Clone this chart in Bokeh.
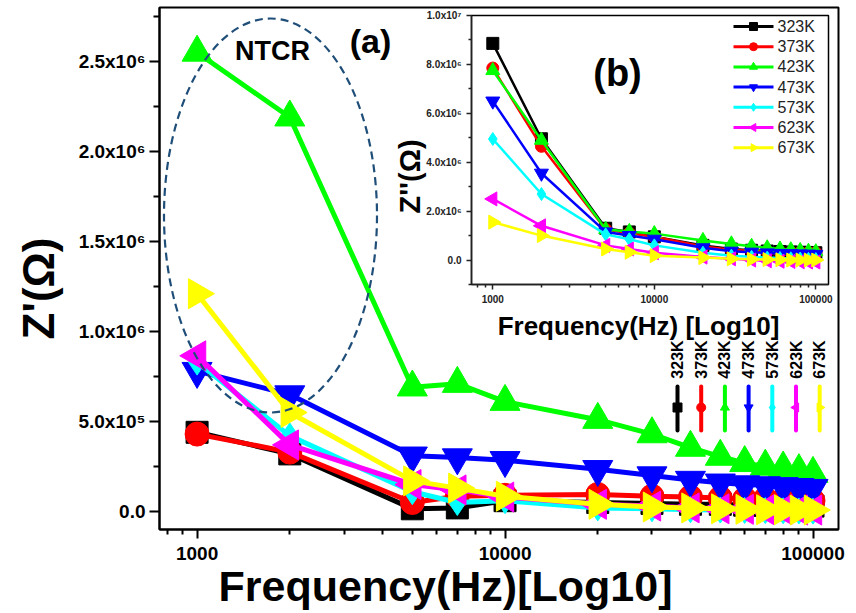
import math
from bokeh.plotting import figure
from bokeh.models import FixedTicker, Range1d, Label, CustomJSTickFormatter
from bokeh.core.properties import value
from bokeh.embed import file_html
from bokeh.resources import INLINE

FONT = "Liberation Sans"

# ---------------- data ----------------
freq = [1000, 2000, 5000, 7000, 10000, 20000, 30000, 40000, 50000,
        60000, 70000, 80000, 90000, 100000]
temps = ["323K", "373K", "423K", "473K", "573K", "623K", "673K"]

# Z' (main panel a)
zr_323 = [4.4e5, 3.2e5, 1.5e4, 2.0e4, 6.0e4, 5.0e4, 4.5e4, 4.0e4, 4.0e4, 3.5e4, 3.5e4, 3.0e4, 3.0e4, 3.0e4]
zr_373 = [4.3e5, 3.3e5, 5.0e4, 8.5e4, 9.0e4, 9.5e4, 8.5e4, 8.0e4, 7.5e4, 7.0e4, 7.0e4, 6.5e4, 6.5e4, 6.0e4]
zr_423 = [2.55e6, 2.19e6, 6.9e5, 7.1e5, 6.1e5, 5.1e5, 4.3e5, 3.55e5, 3.05e5, 2.7e5, 2.5e5, 2.4e5, 2.25e5, 2.1e5]
zr_473 = [7.8e5, 6.5e5, 3.1e5, 3.0e5, 2.85e5, 2.35e5, 2.0e5, 1.75e5, 1.6e5, 1.5e5, 1.45e5, 1.4e5, 1.35e5, 1.3e5]
zr_573 = [8.3e5, 4.2e5, 1.1e5, 5.0e4, 6.0e4, 2.0e4, 1.5e4, 1.0e4, 8.0e3, 6.0e3, 5.0e3, 4.0e3, 3.0e3, 2.0e3]
zr_623 = [8.65e5, 3.7e5, 1.5e5, 1.2e5, 8.0e4, 4.0e4, 3.0e4, 2.0e4, 1.5e4, 1.2e4, 1.0e4, 1.0e4, 8.0e3, 8.0e3]
zr_673 = [1.21e6, 5.5e5, 1.7e5, 1.3e5, 8.5e4, 4.0e4, 2.5e4, 2.0e4, 1.5e4, 1.2e4, 1.0e4, 1.0e4, 8.0e3, 8.0e3]

# Z'' (inset panel b)
zi_323 = [8.86e6, 4.96e6, 1.3e6, 1.15e6, 9.5e5, 6.0e5, 4.5e5, 4.0e5, 3.7e5, 3.5e5, 3.3e5, 3.2e5, 3.1e5, 3.0e5]
zi_373 = [7.85e6, 4.65e6, 1.25e6, 1.1e6, 9.5e5, 5.5e5, 4.2e5, 3.8e5, 3.5e5, 3.3e5, 3.2e5, 3.1e5, 3.0e5, 3.0e5]
zi_423 = [7.75e6, 4.9e6, 1.25e6, 1.17e6, 1.08e6, 8.0e5, 6.6e5, 5.6e5, 5.0e5, 4.5e5, 4.2e5, 3.9e5, 3.6e5, 3.4e5]
zi_473 = [6.5e6, 3.55e6, 1.15e6, 1.0e6, 8.5e5, 5.0e5, 3.6e5, 3.2e5, 2.9e5, 2.7e5, 2.6e5, 2.5e5, 2.4e5, 2.3e5]
zi_573 = [4.95e6, 2.7e6, 1.05e6, 8.5e5, 6.0e5, 3.0e5, 1.8e5, 1.3e5, 1.0e5, 8.0e4, 7.0e4, 6.0e4, 5.0e4, 4.0e4]
zi_623 = [2.5e6, 1.4e6, 6.0e5, 4.5e5, 3.0e5, 1.2e5, 5.0e4, 0.0, -3.0e4, -5.0e4, -6.0e4, -7.0e4, -8.0e4, -8.0e4]
zi_673 = [1.55e6, 1.0e6, 4.5e5, 3.2e5, 1.8e5, 1.0e5, 5.0e4, 3.0e4, 2.0e4, 1.0e4, 0.0, 0.0, 0.0, 0.0]

main_series = [zr_323, zr_373, zr_423, zr_473, zr_573, zr_623, zr_673]
inset_series = [zi_323, zi_373, zi_423, zi_473, zi_573, zi_623, zi_673]

x_ticks = [1000, 10000, 100000]
x_tick_labels = ["1000", "10000", "100000"]
x_minor = [800, 900, 2000, 3000, 4000, 5000, 6000, 7000, 8000, 9000,
           20000, 30000, 40000, 50000, 60000, 70000, 80000, 90000]
main_y_ticks = [0, 5e5, 1e6, 1.5e6, 2e6, 2.5e6]
main_y_tick_labels = ["0.0", "5.0x10\u2075", "1.0x10\u2076", "1.5x10\u2076", "2.0x10\u2076", "2.5x10\u2076"]
main_y_minor = [2.5e5, 7.5e5, 1.25e6, 1.75e6, 2.25e6, 2.75e6]
inset_y_ticks = [0, 2e6, 4e6, 6e6, 8e6, 1e7]
inset_y_tick_labels = ["0.0", "2.0x10\u2076", "4.0x10\u2076", "6.0x10\u2076", "8.0x10\u2076", "1.0x10\u2077"]
inset_y_minor = [-1e6, 1e6, 3e6, 5e6, 7e6, 9e6]

# ---------------- styles ----------------
colors = ["#000000", "#ff0000", "#00ff00", "#0000ff", "#00ffff", "#ff00ff", "#ffff00"]
markers = ["square", "circle", "triangle", "inverted_triangle", "diamond", "triangle", "triangle"]
angles = [0, 0, 0, 0, 0, math.pi / 2, -math.pi / 2]
main_sizes = [22, 24, 30, 30, 26, 30, 30]
inset_sizes = [12, 12, 14, 14, 13, 14, 14]


def tick_fmt(vals, labs):
    return CustomJSTickFormatter(args=dict(tvals=vals, tlabs=labs), code="""
        for (let i = 0; i < tvals.length; i++) {
            if (Math.abs(tick - tvals[i]) <= 1e-6 * Math.max(1, Math.abs(tvals[i]))) return tlabs[i];
        }
        return "";
    """)


def bare(fig):
    fig.xgrid.visible = False
    fig.ygrid.visible = False


# ---------------- main figure ----------------
MX0, MX1, MY0, MY1 = 755, 121000, -1e5, 2.8e6
FL, FR, FT, FB = 159, 838, 7, 529        # frame in page pixels
W, H = 848, 610


def mx(px):
    a, b = math.log10(MX0), math.log10(MX1)
    return 10 ** (a + (px - FL) / (FR - FL) * (b - a))


def my(py):
    return MY0 + (FB - py) / (FB - FT) * (MY1 - MY0)


p = figure(width=W, height=H, x_axis_type="log",
           x_range=Range1d(MX0, MX1), y_range=Range1d(MY0, MY1),
           output_backend="svg", toolbar_location=None,
           min_border_left=FL, min_border_right=W - FR,
           min_border_top=FT, min_border_bottom=H - FB)
bare(p)
p.outline_line_color = "black"
p.outline_line_width = 2
p.background_fill_color = "white"
p.border_fill_color = "white"

for ax in (p.xaxis[0], p.yaxis[0]):
    ax.axis_line_width = 2
    ax.axis_line_color = "black"
    ax.major_tick_in = 0
    ax.minor_tick_in = 0
    ax.major_tick_line_width = 2
    ax.minor_tick_line_width = 2
    ax.major_label_text_font = FONT
    ax.major_label_text_font_style = "bold"
    ax.major_label_text_font_size = "19px"
    ax.major_label_text_color = "black"

p.xaxis.ticker = FixedTicker(ticks=x_ticks, minor_ticks=x_minor)
p.xaxis.formatter = tick_fmt(x_ticks, x_tick_labels)
p.xaxis.major_tick_out = 9
p.xaxis.minor_tick_out = 5
p.xaxis.major_label_standoff = 8

p.yaxis.ticker = FixedTicker(ticks=main_y_ticks, minor_ticks=main_y_minor)
p.yaxis.formatter = tick_fmt(main_y_ticks, main_y_tick_labels)
p.yaxis.major_tick_out = 10
p.yaxis.minor_tick_out = 6
p.yaxis.major_label_standoff = 4

for ys, c, m, a, s in zip(main_series, colors, markers, angles, main_sizes):
    p.line(freq, ys, line_color=c, line_width=5, line_join="round")
    p.scatter(freq, ys, marker=m, angle=a, size=s, fill_color=c, line_color=c)

# NTCR dashed ellipse
p.ellipse(x=[mx(270)], y=[my(215)], width=213, height=394,
          width_units="screen", height_units="screen",
          fill_alpha=0, line_color="#1f4e79", line_width=2.2, line_dash="8 5")

# main custom legend (vertical)
lx0, ldx = 677, 23.7
leg_x = [mx(lx0 + i * ldx) for i in range(len(temps))]
p.segment(x0=leg_x, y0=[my(386)] * 7, x1=leg_x, y1=[my(430)] * 7,
          line_color=colors, line_width=4, line_cap="round")
for i in range(len(temps)):
    p.scatter([leg_x[i]], [my(407)], marker=markers[i], angle=angles[i], size=9,
              fill_color=colors[i], line_color=colors[i])
p.text(x=leg_x, y=[my(359)] * 7, text=temps, angle=math.pi / 2,
       text_align="center", text_baseline="middle",
       text_font=value(FONT), text_font_style="bold", text_font_size="16px",
       text_color="black")

for txt, px, py, fs in [("(a)", 370, 40, "34px"), ("NTCR", 272, 50, "27px")]:
    p.add_layout(Label(x=mx(px), y=my(py), text=txt,
                       text_align="center", text_baseline="middle",
                       text_font=FONT, text_font_style="bold",
                       text_font_size=fs, text_color="black"))

# ---------------- inset figure ----------------
IX0, IX1, IY0, IY1 = 738, 119800, -1e6, 1e7
IL, IR, IT, IB = 471, 828, 15, 284       # inset frame in page pixels
QX, QY, QW, QH = 400, 8, 436, 332        # inset figure in page pixels


def ix(px):
    a, b = math.log10(IX0), math.log10(IX1)
    return 10 ** (a + (px - IL) / (IR - IL) * (b - a))


def iy(py):
    return IY0 + (IB - py) / (IB - IT) * (IY1 - IY0)


q = figure(width=QW, height=QH, x_axis_type="log",
           x_range=Range1d(IX0, IX1), y_range=Range1d(IY0, IY1),
           output_backend="svg", toolbar_location=None,
           min_border_left=IL - QX, min_border_right=QX + QW - IR,
           min_border_top=IT - QY, min_border_bottom=QY + QH - IB)
bare(q)
q.outline_line_color = "black"
q.outline_line_width = 1.5
q.background_fill_alpha = 0
q.border_fill_alpha = 0

for ax in (q.xaxis[0], q.yaxis[0]):
    ax.axis_line_width = 1.5
    ax.axis_line_color = "#222222"
    ax.major_tick_in = 0
    ax.minor_tick_in = 0
    ax.major_tick_out = 5
    ax.minor_tick_out = 3
    ax.major_tick_line_width = 1.5
    ax.minor_tick_line_width = 1.5
    ax.major_tick_line_color = "#222222"
    ax.minor_tick_line_color = "#222222"
    ax.major_label_text_font = FONT
    ax.major_label_text_font_style = "bold"
    ax.major_label_text_font_size = "10px"
    ax.major_label_text_color = "#222222"
    ax.major_label_standoff = 5

q.xaxis.ticker = FixedTicker(ticks=x_ticks, minor_ticks=x_minor)
q.xaxis.formatter = tick_fmt(x_ticks, x_tick_labels)
q.yaxis.ticker = FixedTicker(ticks=inset_y_ticks, minor_ticks=inset_y_minor)
q.yaxis.formatter = tick_fmt(inset_y_ticks, inset_y_tick_labels)

for ys, c, m, a, s in zip(inset_series, colors, markers, angles, inset_sizes):
    q.line(freq, ys, line_color=c, line_width=2.5)
    q.scatter(freq, ys, marker=m, angle=a, size=s, fill_color=c, line_color=c)

# inset legend (manual, top right)
ly = [iy(26 + 20.2 * i) for i in range(len(temps))]
q.segment(x0=[ix(733)] * 7, y0=ly, x1=[ix(773)] * 7, y1=ly,
          line_color=colors, line_width=3)
for i in range(len(temps)):
    q.scatter([ix(753)], [ly[i]], marker=markers[i], angle=angles[i], size=8,
              fill_color=colors[i], line_color=colors[i])
q.text(x=[ix(777)] * 7, y=ly, text=temps, text_align="left", text_baseline="middle",
       text_font=value(FONT), text_font_size="16px", text_color="#222222")

q.add_layout(Label(x=ix(617), y=iy(72), text="(b)",
                   text_align="center", text_baseline="middle",
                   text_font=FONT, text_font_style="bold",
                   text_font_size="38px", text_color="black"))

# ---------------- overlay for axis titles (page pixel space) ----------------
ov = figure(width=W, height=H, x_range=Range1d(0, W), y_range=Range1d(H, 0),
            output_backend="svg", toolbar_location=None,
            x_axis_location=None, y_axis_location=None, min_border=0)
bare(ov)
ov.outline_line_color = None
ov.background_fill_alpha = 0
ov.border_fill_alpha = 0

for txt, px, py, fs, ang in [("Z'(\u03a9)", 38, 288, "44px", math.pi / 2),
                             ("Frequency(Hz)[Log10]", 445, 585, "43px", 0),
                             ("Z''(\u03a9)", 409, 176, "29px", math.pi / 2),
                             ("Frequency(Hz) [Log10]", 638, 325, "26px", 0)]:
    ov.text(x=[px], y=[py], text=[txt], angle=ang,
            text_align="center", text_baseline="middle",
            text_font=value(FONT), text_font_style="bold",
            text_font_size=fs, text_color="black")

q.styles = {"position": "absolute", "left": f"{QX}px", "top": f"{QY}px"}
ov.styles = {"position": "absolute", "left": "0px", "top": "0px"}

open("out.html", "w").write(file_html([p, q, ov], INLINE))
